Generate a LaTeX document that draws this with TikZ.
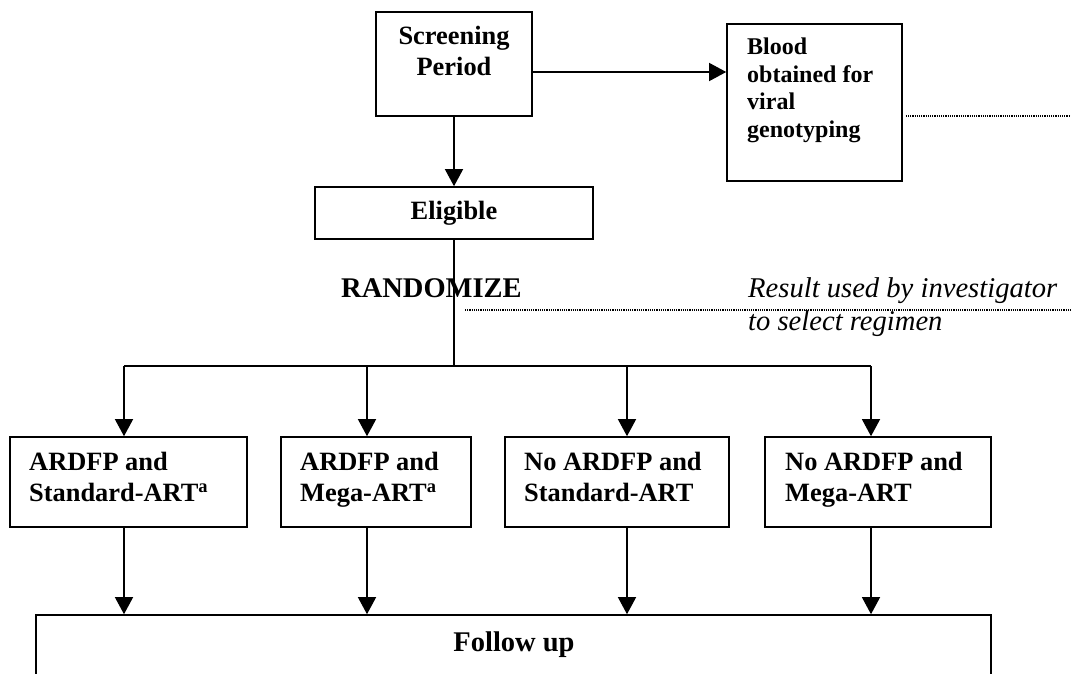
\documentclass[tikz,border=0pt]{standalone}
\usepackage{fontspec}
\setmainfont{Liberation Serif}
\usetikzlibrary{arrows.meta}
\begin{document}
\begin{tikzpicture}[x=1pt,y=-1pt,
  box/.style={draw,line width=1.6pt,inner sep=0pt},
  conn/.style={line width=1.3pt},
  arr/.style={conn,-{Triangle[length=17pt,width=18pt]}},
  dots/.style={line width=1.2pt,dash pattern=on 1.2pt off 1pt},
  bt/.style={font=\bfseries\fontsize{26.4}{31}\selectfont,inner sep=0pt},
  btsmall/.style={font=\bfseries\fontsize{24}{27.7}\selectfont,inner sep=0pt},
  btbig/.style={font=\bfseries\fontsize{28.5}{33}\selectfont,inner sep=0pt},
  note/.style={font=\itshape\fontsize{28.6}{33}\selectfont,inner sep=0pt}]
\useasboundingbox (0,0) rectangle (1071,673);
\clip (0,0) rectangle (1071,673);
\fill[white] (0,0) rectangle (1071,673);

% screening and genotyping
\node[box,minimum width=156pt,minimum height=104pt] (scr) at (454,64) {};
\node[bt,align=center,anchor=north] (scrtxt) at (454,25.5) {Screening\\Period};
\node[box,minimum width=175pt,minimum height=157pt] (blood) at (814.5,102.5) {};
\node[btsmall,align=left,anchor=north west] (bloodtxt) at (747,37.5)
  {Blood\\obtained for\\viral\\genotyping};

% eligibility and randomisation
\node[box,bt,minimum width=278pt,minimum height=52pt] (elig) at (454,213) {Eligible};
\node[btbig,anchor=base west] (rand) at (341,297) {RANDOMIZE};
\node[note,align=left,anchor=north west] (result) at (748,277.5)
  {Result used by investigator\\to select regimen};

% treatment arms
\node[box,minimum width=237pt,minimum height=90pt] (b1) at (128.5,482) {};
\node[bt,align=left,anchor=north west] (b1txt) at (29,452) {ARDFP and\\Standard-ART\textsuperscript{a}};
\node[box,minimum width=190pt,minimum height=90pt] (b2) at (376,482) {};
\node[bt,align=left,anchor=north west] (b2txt) at (300,452) {ARDFP and\\Mega-ART\textsuperscript{a}};
\node[box,minimum width=224pt,minimum height=90pt] (b3) at (617,482) {};
\node[bt,align=left,anchor=north west] (b3txt) at (524,452) {No ARDFP and\\Standard-ART};
\node[box,minimum width=226pt,minimum height=90pt] (b4) at (878,482) {};
\node[bt,align=left,anchor=north west] (b4txt) at (785,452) {No ARDFP and\\Mega-ART};

% follow-up
\node[box,minimum width=955pt,minimum height=100pt] (follow) at (513.5,665) {};
\node[btbig,anchor=base] (followtxt) at (514,651) {Follow up};

% connectors
\coordinate (hy) at (0,72);
\draw[arr] (scr.east |- hy) -- (blood.west |- hy);
\draw[arr] (scr.south) -- (elig.north);
\coordinate (split) at (454,366);
\draw[conn] (elig.south) -- (split);
\coordinate (t1) at (124,366);
\coordinate (t2) at (367,366);
\coordinate (t3) at (627,366);
\coordinate (t4) at (871,366);
\draw[conn] (t1) -- (t4);
\foreach \t/\b in {t1/b1,t2/b2,t3/b3,t4/b4}{
  \draw[arr] (\t) -- (\t |- \b.north);
  \draw[arr] (\t |- \b.south) -- (\t |- follow.north);
}

% dotted leaders
\coordinate (d1) at (1071,116);
\draw[dots,shorten <=3pt] (blood.east |- d1) -- (d1);
\coordinate (d2a) at (465,310);
\coordinate (d2b) at (1071,310);
\draw[dots] (d2a) -- (d2b);
\end{tikzpicture}
\end{document}
